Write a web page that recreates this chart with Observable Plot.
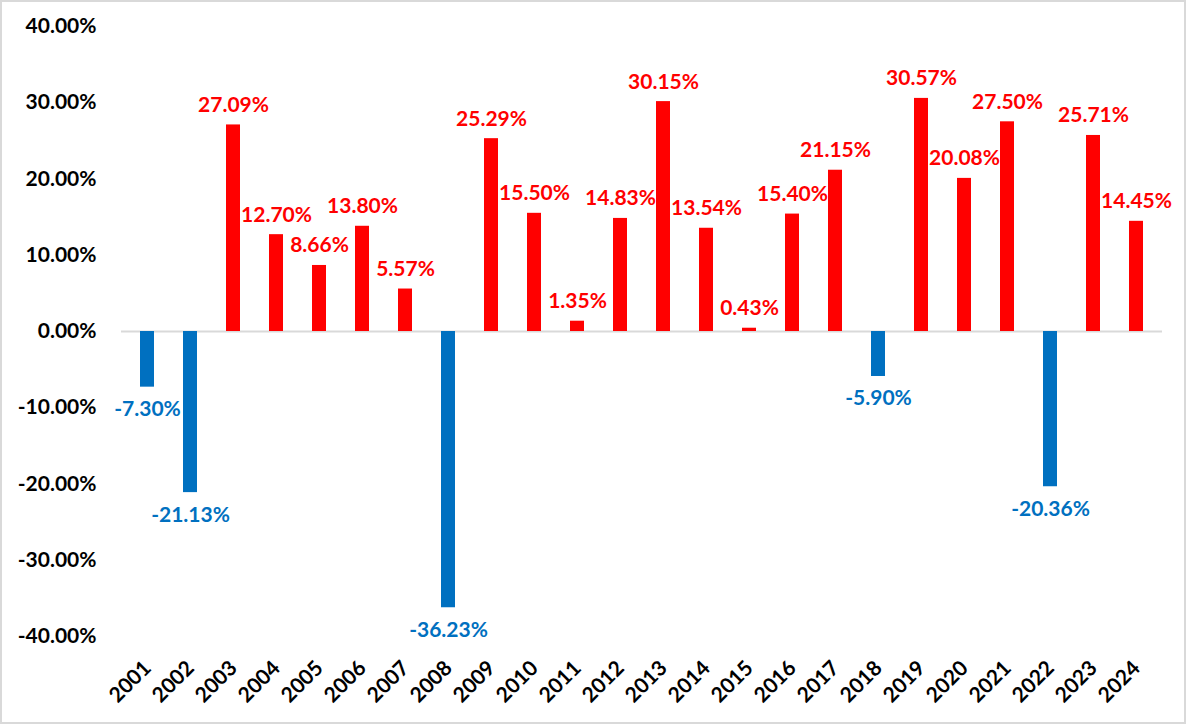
<!DOCTYPE html>
<html>
<head>
<meta charset="utf-8">
<script src="https://cdn.jsdelivr.net/npm/d3@7"></script>
<script src="https://cdn.jsdelivr.net/npm/@observablehq/plot@0.6"></script>
<style>
  html, body { margin: 0; padding: 0; background: #fff; }
  #wrap { position: relative; width: 1186px; height: 724px; overflow: hidden; }
  #frame { position: absolute; left: 0; top: 0; width: 1186px; height: 724px; box-sizing: border-box; border: 2px solid #d9d9d9; pointer-events: none; }
</style>
</head>
<body>
<div id="wrap"><div id="frame"></div></div>
<script>
const years = [2001, 2002, 2003, 2004, 2005, 2006, 2007, 2008, 2009, 2010, 2011, 2012,
               2013, 2014, 2015, 2016, 2017, 2018, 2019, 2020, 2021, 2022, 2023, 2024];
const returnsPct = [-7.30, -21.13, 27.09, 12.70, 8.66, 13.80, 5.57, -36.23, 25.29, 15.50, 1.35, 14.83,
                    30.15, 13.54, 0.43, 15.40, 21.15, -5.90, 30.57, 20.08, 27.50, -20.36, 25.71, 14.45];
const yTicks = [-0.4, -0.3, -0.2, -0.1, 0, 0.1, 0.2, 0.3, 0.4];

const data = years.map((y, i) => ({ year: String(y), value: returnsPct[i] / 100, label: returnsPct[i].toFixed(2) + "%" }));
const pos = data.filter(d => d.value >= 0);
const neg = data.filter(d => d.value < 0);

const chart = Plot.plot({
  width: 1186,
  height: 724,
  marginLeft: 121,
  marginRight: 24,
  marginTop: 26,
  marginBottom: 88,
  style: { fontFamily: "Lato, sans-serif", fontWeight: "bold", fontSize: "21px", color: "#000", background: "#fff", overflow: "visible" },
  x: { domain: years.map(String), paddingInner: 0.68, paddingOuter: 0.34, label: null },
  y: { domain: [-0.4, 0.4], label: null },
  marks: [
    Plot.axisY({ ticks: yTicks, tickFormat: d => (d * 100).toFixed(2) + "%", tickSize: 0, tickPadding: 25, fontSize: 21, fontWeight: "bold", label: null }),
    Plot.axisX({ tickSize: 0, tickRotate: -45, tickPadding: 28, fontSize: 21, fontWeight: "bold", label: null }),
    Plot.ruleY([0], { stroke: "#d9d9d9", strokeWidth: 2 }),
    Plot.barY(pos, { x: "year", y: "value", fill: "#ff0000" }),
    Plot.barY(neg, { x: "year", y: "value", fill: "#0070c0" }),
    Plot.text(pos, { x: "year", y: "value", text: "label", fill: "#ff0000", lineAnchor: "bottom", dy: -13, fontSize: 21, fontWeight: "bold" }),
    Plot.text(neg, { x: "year", y: "value", text: "label", fill: "#0070c0", lineAnchor: "top", dy: 14, fontSize: 21, fontWeight: "bold" })
  ]
});
document.getElementById("wrap").insertBefore(chart, document.getElementById("frame"));
</script>
</body>
</html>
